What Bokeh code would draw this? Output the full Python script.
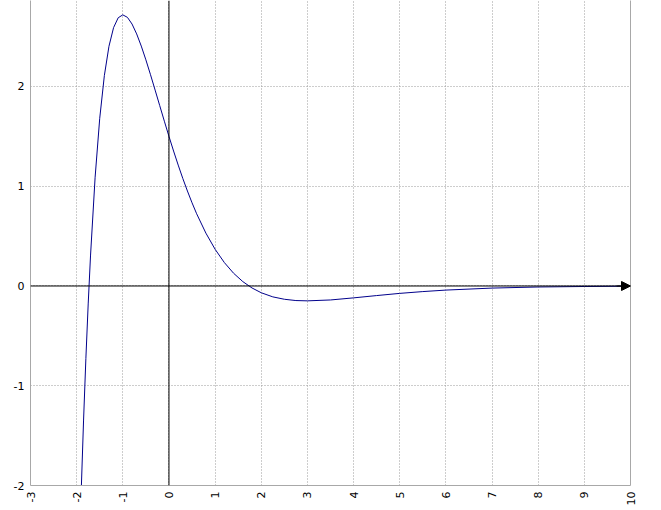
from bokeh.plotting import figure
from bokeh.models import Span, Arrow, NormalHead, LinearAxis, FixedTicker, Range1d
from bokeh.embed import file_html
from bokeh.resources import INLINE
import math

# Curve samples
xs = [-1.9, -1.85, -1.8, -1.75, -1.7, -1.6, -1.5, -1.4, -1.3, -1.2, -1.1, -1.0,
      -0.9, -0.8, -0.7, -0.6, -0.5, -0.4, -0.3, -0.2, -0.1, 0.0, 0.1, 0.2, 0.3,
      0.4, 0.5, 0.6, 0.8, 1.0, 1.2, 1.4, 1.6, 1.8, 2.0, 2.25, 2.5, 2.75, 3.0,
      3.5, 4.0, 4.5, 5.0, 5.5, 6.0, 7.0, 8.0, 9.0, 10.0]
ys = [-2.039, -1.344, -0.726, -0.180, 0.301, 1.090, 1.681, 2.109, 2.403, 2.590,
      2.689, 2.718, 2.693, 2.626, 2.527, 2.405, 2.267, 2.118, 1.964, 1.808,
      1.652, 1.500, 1.353, 1.212, 1.078, 0.952, 0.834, 0.724, 0.530, 0.368,
      0.235, 0.128, 0.044, -0.020, -0.068, -0.109, -0.133, -0.146, -0.149,
      -0.140, -0.119, -0.096, -0.074, -0.056, -0.041, -0.021, -0.010, -0.005,
      -0.002]

x_ticks = [-3, -2, -1, 0, 1, 2, 3, 4, 5, 6, 7, 8, 9, 10]
x_tick_labels = ["-3", "-2", "-1", "0", "1", "2", "3", "4", "5", "6", "7", "8", "9", "10"]
y_ticks = [-2, -1, 0, 1, 2]
y_tick_labels = ["-2", "-1", "0", "1", "2"]

p = figure(width=653, height=508, output_backend="svg", toolbar_location=None,
           x_range=Range1d(-3, 10), y_range=Range1d(-2, 2.862),
           min_border_left=30, min_border_right=23, min_border_top=0,
           min_border_bottom=23)
p.outline_line_color = None
p.background_fill_color = "white"
p.border_fill_color = "white"

# grid
p.xgrid.ticker = FixedTicker(ticks=x_ticks)
p.ygrid.ticker = FixedTicker(ticks=y_ticks)
for g in (p.xgrid, p.ygrid):
    g.grid_line_color = "#9a9a9a"
    g.grid_line_dash = "1 2"
    g.grid_line_width = 1

# axes
font = "DejaVu Sans"
p.xaxis.ticker = FixedTicker(ticks=x_ticks)
p.xaxis.major_label_overrides = {t: l for t, l in zip(x_ticks, x_tick_labels)}
p.xaxis.major_label_orientation = math.pi / 2
p.yaxis.ticker = FixedTicker(ticks=y_ticks)
p.yaxis.major_label_overrides = {t: l for t, l in zip(y_ticks, y_tick_labels)}
for ax in (p.xaxis, p.yaxis):
    ax.axis_line_color = "#a8a8a8"
    ax.major_tick_line_color = None
    ax.minor_tick_line_color = None
    ax.major_tick_out = 0
    ax.major_tick_in = 0
    ax.major_label_standoff = 6
    ax.major_label_text_font = font
    ax.major_label_text_font_size = "11px"
    ax.major_label_text_color = "black"

right = LinearAxis(ticker=FixedTicker(ticks=[]), axis_line_color="#a8a8a8",
                   major_tick_line_color=None, minor_tick_line_color=None,
                   major_label_text_font_size="0px")
p.add_layout(right, "right")

# coordinate axes
p.add_layout(Span(location=0, dimension="height", line_color="black", line_width=1))
p.add_layout(Span(location=0, dimension="width", line_color="black", line_width=1))

p.line(xs, ys, line_color="#00008b", line_width=1)

p.add_layout(Arrow(end=NormalHead(size=9, fill_color="black", line_color="black"),
                   x_start=9.7, y_start=0, x_end=10, y_end=0,
                   line_color="black", line_width=1))

open("out.html", "w").write(file_html(p, INLINE))
